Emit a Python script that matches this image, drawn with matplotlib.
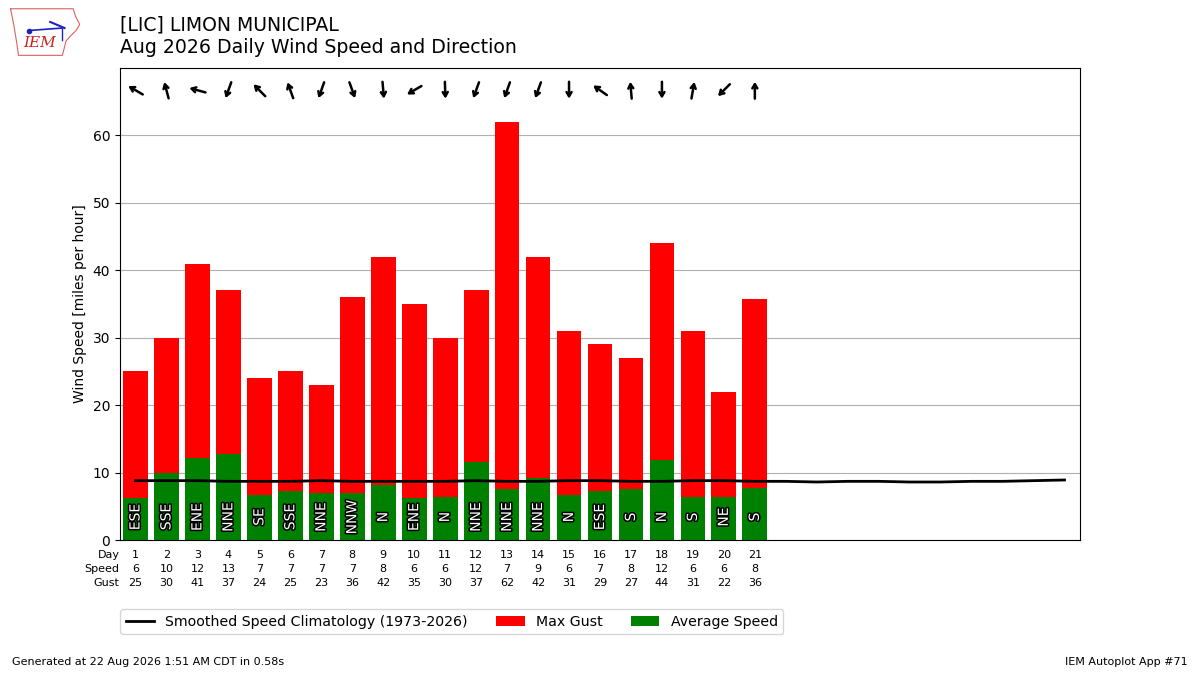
import matplotlib
matplotlib.use("Agg")
import matplotlib.pyplot as plt
import matplotlib.patheffects as PathEffects
import numpy as np

##### data #####
days = list(range(1, 22))
avg_speed = [6.3, 10.0, 12.2, 12.8, 6.7, 7.3, 7.0, 7.0, 8.1, 6.3, 6.4,
             11.6, 7.5, 9.2, 6.6, 7.3, 7.6, 11.9, 6.4, 6.4, 7.7]
max_gust = [25, 30, 41, 37, 24, 25, 23, 36, 42, 35, 30,
            37, 62, 42, 31, 29, 27, 44, 31, 22, 35.7]
speed_lbl = [6, 10, 12, 13, 7, 7, 7, 7, 8, 6, 6, 12, 7, 9, 6, 7, 8, 12, 6, 6, 8]
gust_lbl = [25, 30, 41, 37, 24, 25, 23, 36, 42, 35, 30, 37, 62, 42, 31, 29, 27, 44, 31, 22, 36]
dir_txt = ["ESE", "SSE", "ENE", "NNE", "SE", "SSE", "NNE", "NNW", "N", "ENE", "N",
           "NNE", "NNE", "NNE", "N", "ESE", "S", "N", "S", "NE", "S"]
# direction the wind blows from (deg), as drawn by the arrows
dir_deg = [120, 165, 105, 20, 135, 160, 20, 340, 355, 60, 358,
           20, 20, 20, 0, 125, 175, 0, 190, 45, 180]

clim_days = list(range(1, 32))
clim_speed = [8.8, 8.8, 8.8, 8.7, 8.7, 8.7, 8.8, 8.7, 8.7, 8.7, 8.7,
              8.8, 8.7, 8.7, 8.8, 8.8, 8.7, 8.7, 8.8, 8.8, 8.7, 8.7,
              8.6, 8.7, 8.7, 8.6, 8.6, 8.7, 8.7, 8.8, 8.9]

##### plot #####
fig = plt.figure(figsize=(12, 6.75), dpi=100)
ax = fig.add_axes([0.1, 0.2, 0.8, 0.6993])

ax.bar(days, max_gust, width=0.8, color="r", label="Max Gust", zorder=2)
ax.bar(days, avg_speed, width=0.8, color="green", label="Average Speed", zorder=2)
ax.plot(clim_days, clim_speed, color="k", lw=2, zorder=4,
        label="Smoothed Speed Climatology (1973-2026)")

for d, t in zip(days, dir_txt):
    txt = ax.text(d, 3.4, t, rotation=90, ha="center", va="center",
                  color="white", fontsize=10, zorder=5)
    txt.set_path_effects([PathEffects.withStroke(linewidth=2.2, foreground="k")])

# wind direction arrows (pointing where the wind goes)
for d, deg in zip(days, dir_deg):
    to = np.radians(deg + 180)
    dx = np.sin(to) * 0.27
    dy = np.cos(to) * 1.25
    ax.annotate("", xy=(d + dx, 66.7 + dy), xytext=(d - dx, 66.7 - dy),
                arrowprops=dict(arrowstyle="->,head_length=0.3,head_width=0.18",
                                lw=1.8, color="k", shrinkA=0, shrinkB=0),
                zorder=5)

ax.set_xlim(0.5, 31.5)
ax.set_ylim(0, 70)
ax.set_yticks(range(0, 61, 10))
ax.set_xticks([])
ax.grid(axis="y", zorder=0)
ax.set_axisbelow(True)
ax.set_ylabel("Wind Speed [miles per hour]")

# table of values under the axis
trans = ax.get_xaxis_transform()
for row, (name, vals) in enumerate([("Day", days), ("Speed", speed_lbl), ("Gust", gust_lbl)]):
    y = -0.032 - row * 0.0297
    ax.text(0.48, y, name, transform=trans, ha="right", va="center", fontsize=8)
    for d, v in zip(days, vals):
        ax.text(d, y, str(v), transform=trans, ha="center", va="center", fontsize=8)

ax.legend(loc="upper left", bbox_to_anchor=(0.0, -0.146), borderaxespad=0,
          ncol=3, fontsize=10.2)

fig.text(0.1, 0.963, "[LIC] LIMON MUNICIPAL", fontsize=13.6, va="center")
fig.text(0.1, 0.929, "Aug 2026 Daily Wind Speed and Direction", fontsize=13.6, va="center")
fig.text(0.01, 0.015, "Generated at 22 Aug 2026 1:51 AM CDT in 0.58s", fontsize=8)
fig.text(0.99, 0.015, "IEM Autoplot App #71", fontsize=8, ha="right")

# rough IEM logo
lax = fig.add_axes([0.007, 0.915, 0.06, 0.075])
lax.set_xlim(0, 10)
lax.set_ylim(0, 10)
lax.axis("off")
ox = [0.3, 9.0, 9.3, 9.9, 9.4, 8.6, 8.0, 7.5, 1.4, 1.2, 0.8, 0.3]
oy = [9.6, 9.6, 8.2, 6.5, 5.3, 4.2, 3.2, 0.4, 0.4, 2.5, 6.0, 9.6]
lax.plot(ox, oy, color="#e06060", lw=0.8)
lax.text(2.0, 2.0, "IEM", color="#d02020", fontsize=11, fontstyle="italic",
         family="DejaVu Serif")
lax.plot([2.8, 7.5], [5.3, 5.8], color="#2020c0", lw=1.2)
lax.plot([2.8], [5.3], "o", color="#2020c0", ms=3)
lax.plot([5.8, 7.8], [7.0, 5.8], color="#2020c0", lw=1.5)
lax.plot([7.5, 7.5], [5.8, 3.5], color="#2020c0", lw=1.0)

fig.savefig("out.png", dpi=100)
